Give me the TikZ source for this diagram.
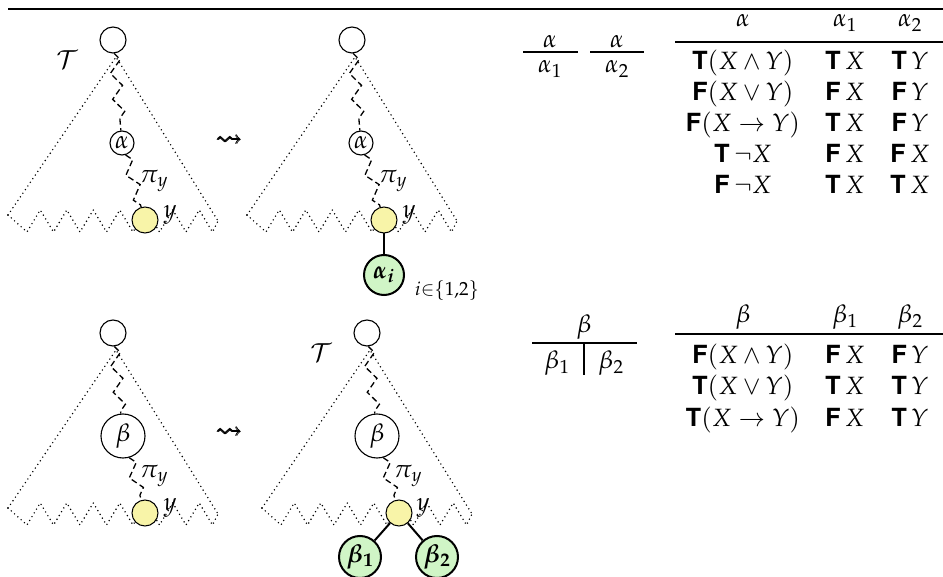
\documentclass[tikz,border=0pt]{standalone}
\usepackage{mathpazo}
\usepackage{amssymb}
\usepackage{bm}
\usepackage[no-math]{fontspec}
\setsansfont{TeX Gyre Heros}
\usetikzlibrary{decorations.pathmorphing}
\newcommand\sT{\textsf{\bfseries T}}
\newcommand\sF{\textsf{\bfseries F}}
\definecolor{ylw}{RGB}{248,244,168}
\definecolor{grn}{RGB}{208,245,198}
\tikzset{
  tri/.pic={
    \draw[dotline] (-105,175) -- (3,17) -- (105,181);
    \draw[dotline] (-105,175) -- (-86,192) -- (-72.75,170) -- (-59.5,192) -- (-46.25,170) -- (-33,192) -- (-19.75,170) -- (-6.5,192) -- (6.75,170) -- (20,192) -- (33.25,170) -- (46.5,192) -- (59.75,170) -- (73,192) -- (86.25,170) -- (99.5,192) -- (105,181);
  },
  dotline/.style={line width=1.6pt,dash pattern=on 0pt off 4.4pt,line cap=round},
  rootc/.style={circle,draw,line width=1.1pt,fill=white,minimum size=26pt,inner sep=0pt},
  alphac/.style={circle,draw,line width=1.1pt,fill=white,minimum size=24pt,inner sep=1pt},
  betac/.style={circle,draw,line width=1.1pt,fill=white,minimum size=44pt,inner sep=0pt},
  leafc/.style={circle,draw,line width=1pt,fill=ylw,minimum size=26pt,inner sep=0pt},
  newc/.style={circle,draw,line width=2pt,fill=grn,minimum size=40pt,inner sep=0pt},
  wiggle/.style={decorate,decoration={zigzag,segment length=26pt,amplitude=5.5pt},dash pattern=on 6pt off 3.5pt,line width=1.3pt},
  solidedge/.style={line width=2pt},
  rulethick/.style={line width=1.8pt},
  rulemid/.style={line width=1.3pt},
  fracbar/.style={line width=1.2pt},
  cell/.style={anchor=base,inner sep=0pt}
}
\begin{document}
\begin{tikzpicture}[x=1pt,y=-1pt,font=\fontsize{25}{30}\selectfont]
\useasboundingbox (0,0) rectangle (943,577);
% top rule
\coordinate (tl) at (8,9);
\coordinate (tr) at (943,9);
\draw[rulethick] (tl) -- (tr);

% ---------- panel 1 ----------
\pic at (113,40) {tri};
\node[rootc] (r1) at (113,40) {};
\node (T1) at (67,60) {$\mathcal{T}$};
\node[alphac] (a1) at (122,143) {$\alpha$};
\node[leafc] (y1) at (145,220) {};
\node (yl1) at (170,215) {$y$};
\node (p1) at (154,181) {$\pi_y$};
\draw[wiggle] (r1) -- (a1);
\draw[wiggle] (a1) -- (y1);
\node (lead1) at (229,141) {$\bm{\leadsto}$};

% ---------- panel 2 ----------
\pic at (352,40) {tri};
\node[rootc] (r2) at (352,40) {};
\node[alphac] (a2) at (361,143) {$\alpha$};
\node[leafc] (y2) at (384,220) {};
\node (yl2) at (409,215) {$y$};
\node (p2) at (393,181) {$\pi_y$};
\draw[wiggle] (r2) -- (a2);
\draw[wiggle] (a2) -- (y2);
\node[newc] (ai) at (384,275) {$\bm{\alpha_i}$};
\draw[solidedge] (y2) -- (ai);
\node (il) at (447,290) {$\scriptstyle i\in\{1,2\}$};

% ---------- panel 3 ----------
\pic at (113,333) {tri};
\node[rootc] (r3) at (113,333) {};
\node[betac] (b3) at (123,436) {$\beta$};
\node[leafc] (y3) at (145,513) {};
\node (yl3) at (170,508) {$y$};
\node (p3) at (154,476) {$\pi_y$};
\draw[wiggle] (r3) -- (b3);
\draw[wiggle] (b3) -- (y3);
\node (lead2) at (229,433) {$\bm{\leadsto}$};

% ---------- panel 4 ----------
\pic at (367,333) {tri};
\node[rootc] (r4) at (367,333) {};
\node (T4) at (321,353) {$\mathcal{T}$};
\node[betac] (b4) at (377,436) {$\beta$};
\node[leafc] (y4) at (399,513) {};
\node (yl4) at (423,508) {$y$};
\node (p4) at (408,476) {$\pi_y$};
\draw[wiggle] (r4) -- (b4);
\draw[wiggle] (b4) -- (y4);
\node[newc,minimum size=42pt] (bb1) at (360,557) {$\bm{\beta_1}$};
\node[newc,minimum size=42pt] (bb2) at (437,557) {$\bm{\beta_2}$};
\draw[solidedge] (y4) -- (bb1);
\draw[solidedge] (y4) -- (bb2);

% ---------- alpha rule ----------
\node[cell] (fa1n) at (550,48) {$\alpha$};
\coordinate (fa1l) at (523,52);
\coordinate (fa1r) at (578,52);
\draw[fracbar] (fa1l) -- (fa1r);
\node[cell] (fa1d) at (550,73) {$\alpha_1$};
\node[cell] (fa2n) at (617,48) {$\alpha$};
\coordinate (fa2l) at (590,52);
\coordinate (fa2r) at (644,52);
\draw[fracbar] (fa2l) -- (fa2r);
\node[cell] (fa2d) at (617,73) {$\alpha_2$};

% alpha table
\node[cell] (ah1) at (743,27) {$\alpha$};
\node[cell] (ah2) at (845,27) {$\alpha_1$};
\node[cell] (ah3) at (910,27) {$\alpha_2$};
\coordinate (amr1) at (675,42);
\coordinate (amr2) at (943,42);
\draw[rulemid] (amr1) -- (amr2);
\node[cell] (a11) at (743,70) {\sT$(X\wedge Y)$};
\node[cell] (a12) at (845,70) {\sT$\,X$};
\node[cell] (a13) at (910,70) {\sT$\,Y$};
\node[cell] (a21) at (743,101) {\sF$(X\vee Y)$};
\node[cell] (a22) at (845,101) {\sF$\,X$};
\node[cell] (a23) at (910,101) {\sF$\,Y$};
\node[cell] (a31) at (743,132) {\sF$(X\to Y)$};
\node[cell] (a32) at (845,132) {\sT$\,X$};
\node[cell] (a33) at (910,132) {\sF$\,Y$};
\node[cell] (a41) at (743,163) {\sT$\,\neg X$};
\node[cell] (a42) at (845,163) {\sF$\,X$};
\node[cell] (a43) at (910,163) {\sF$\,X$};
\node[cell] (a51) at (743,194) {\sF$\,\neg X$};
\node[cell] (a52) at (845,194) {\sT$\,X$};
\node[cell] (a53) at (910,194) {\sT$\,X$};

% ---------- beta rule ----------
\node[cell] (fbn) at (584,333) {$\beta$};
\coordinate (fbl) at (532,343);
\coordinate (fbr) at (637,343);
\draw[fracbar] (fbl) -- (fbr);
\node[cell] (fbd1) at (557,369) {$\beta_1$};
\node[cell] (fbd2) at (611,369) {$\beta_2$};
\coordinate (fbv1) at (584,343);
\coordinate (fbv2) at (584,375);
\draw[fracbar] (fbv1) -- (fbv2);

% beta table
\node[cell] (bh1) at (743,323) {$\beta$};
\node[cell] (bh2) at (845,323) {$\beta_1$};
\node[cell] (bh3) at (910,323) {$\beta_2$};
\coordinate (bmr1) at (675,334);
\coordinate (bmr2) at (943,334);
\draw[rulemid] (bmr1) -- (bmr2);
\node[cell] (b11) at (743,364) {\sF$(X\wedge Y)$};
\node[cell] (b12) at (845,364) {\sF$\,X$};
\node[cell] (b13) at (910,364) {\sF$\,Y$};
\node[cell] (b21) at (743,395) {\sT$(X\vee Y)$};
\node[cell] (b22) at (845,395) {\sT$\,X$};
\node[cell] (b23) at (910,395) {\sT$\,Y$};
\node[cell] (b31) at (743,426) {\sT$(X\to Y)$};
\node[cell] (b32) at (845,426) {\sF$\,X$};
\node[cell] (b33) at (910,426) {\sT$\,Y$};
\end{tikzpicture}
\end{document}
